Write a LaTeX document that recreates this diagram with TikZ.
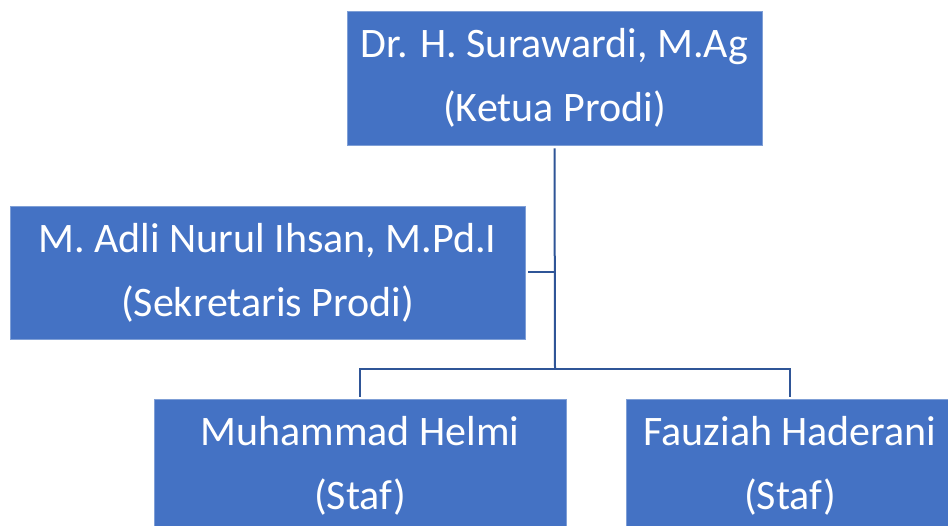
\documentclass[tikz,border=0pt]{standalone}
\usepackage{fontspec}
\setmainfont{Carlito}
\definecolor{boxblue}{HTML}{4472C4}
\definecolor{boxedge}{HTML}{7F9FD6}
\definecolor{linkblue}{HTML}{2F5597}
\begin{document}
\begin{tikzpicture}[x=1pt,y=-1pt,
  orgbox/.style={rectangle, fill=boxblue, draw=boxedge, line width=0.6pt,
    inner sep=0pt, text=white, align=center,
    font=\fontsize{42}{64}\selectfont},
  link/.style={draw=linkblue, line width=2pt}]
\useasboundingbox (0,0) rectangle (948,526);
\clip (0,0) rectangle (948,526);
\fill[white] (0,0) rectangle (948,526);
\node[orgbox, minimum width=415pt, minimum height=134pt] (ketua) at (554.5,78)
  {Dr. H. Surawardi, M.Ag\\(Ketua Prodi)};
\node[orgbox, minimum width=515pt, minimum height=133pt] (sekre) at (267.5,272.5)
  {M. Adli Nurul Ihsan, M.Pd.I\\(Sekretaris Prodi)};
\node[orgbox, minimum width=412pt, minimum height=134pt] (helmi) at (360,466)
  {Muhammad Helmi\\(Staf)};
\node[orgbox, minimum width=328pt, minimum height=134pt] (fauziah) at (790,466)
  {Fauziah Haderani\\(Staf)};
\coordinate (j) at (555,369);
\coordinate (s) at (555,272.5);
\draw[link] ([yshift=-3pt]ketua.south) -- (j);
\draw[link] (s) -- ([xshift=3pt]sekre.east);
\draw[link] ([yshift=2pt]helmi.north) -- (helmi.north |- j) -- (fauziah.north |- j) -- ([yshift=2pt]fauziah.north);
\end{tikzpicture}
\end{document}
